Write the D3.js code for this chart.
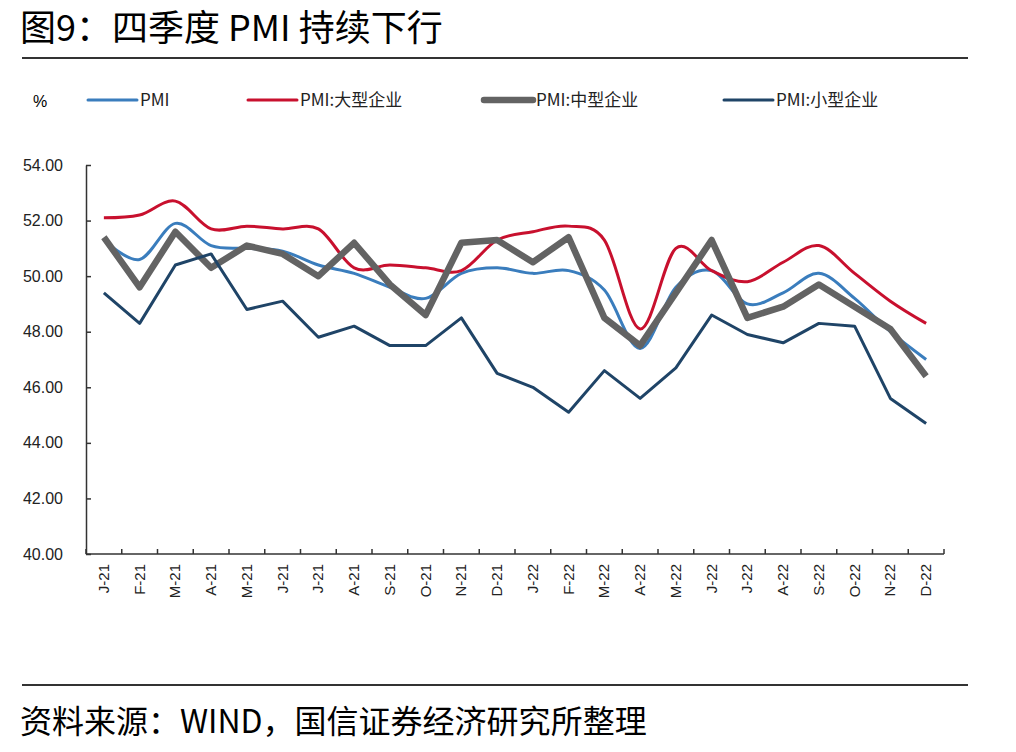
<!DOCTYPE html>
<html>
<head>
<meta charset="utf-8">
<script src="https://cdn.jsdelivr.net/npm/d3@7"></script>
<style>
  body { margin: 0; background: #fff; }
  svg { display: block; }
  .tick text { font-family: "Liberation Sans", Arial, sans-serif; }
</style>
</head>
<body>
<script>
var w = 1016;
var h = 752;
var margin = {top: 165, right: 72, bottom: 198, left: 86};

// x categories
var months = ["J-21","F-21","M-21","A-21","M-21","J-21","J-21","A-21","S-21","O-21","N-21","D-21",
              "J-22","F-22","M-22","A-22","M-22","J-22","J-22","A-22","S-22","O-22","N-22","D-22"];

var pmi    = [51.3,50.6,51.9,51.1,51.0,50.9,50.4,50.1,49.6,49.2,50.1,50.3,
              50.1,50.2,49.5,47.4,49.6,50.2,49.0,49.4,50.1,49.2,48.0,47.0];
var large  = [52.1,52.2,52.7,51.7,51.8,51.7,51.7,50.3,50.4,50.3,50.2,51.3,
              51.6,51.8,51.3,48.1,51.0,50.2,49.8,50.5,51.1,50.1,49.1,48.3];
var medium = [51.4,49.6,51.6,50.3,51.1,50.8,50.0,51.2,49.7,48.6,51.2,51.3,
              50.5,51.4,48.5,47.5,49.4,51.3,48.5,48.9,49.7,48.9,48.1,46.4];
var small  = [49.4,48.3,50.4,50.8,48.8,49.1,47.8,48.2,47.5,47.5,48.5,46.5,
              46.0,45.1,46.6,45.6,46.7,48.6,47.9,47.6,48.3,48.2,45.6,44.7];

var yTicks = [40,42,44,46,48,50,52,54];

var series = [
  {name: "PMI",          values: pmi,    color: "#3a7dbd", width: 3,   smooth: true,  lx: 88},
  {name: "PMI:大型企业", values: large,  color: "#c8102e", width: 3,   smooth: true,  lx: 248},
  {name: "PMI:中型企业", values: medium, color: "#636363", width: 6.5, smooth: false, lx: 484},
  {name: "PMI:小型企业", values: small,  color: "#1f4467", width: 3,   smooth: false, lx: 724}
];

var svg = d3.select("body").append("svg")
  .attr("width", w)
  .attr("height", h);

// title + rules
svg.append("text")
  .attr("x", 20).attr("y", 41)
  .style("font-family", "'Noto Sans CJK SC', sans-serif")
  .style("font-size", "36px")
  .attr("fill", "#000")
  .text("图9：四季度 PMI 持续下行");

svg.append("line").attr("x1", 22).attr("x2", 968).attr("y1", 58).attr("y2", 58)
  .attr("stroke", "#333").attr("stroke-width", 2);
svg.append("line").attr("x1", 22).attr("x2", 968).attr("y1", 685).attr("y2", 685)
  .attr("stroke", "#333").attr("stroke-width", 2);

svg.append("text")
  .attr("x", 20).attr("y", 733)
  .style("font-family", "'Noto Sans CJK SC', sans-serif")
  .style("font-size", "32px")
  .attr("fill", "#000")
  .text("资料来源：WIND，国信证券经济研究所整理");

var x = d3.scaleBand()
  .domain(d3.range(months.length))
  .range([margin.left, w - margin.right]);

var y = d3.scaleLinear()
  .domain([40, 54])
  .range([h - margin.bottom, margin.top]);

// y axis, ticks inward
var yAxis = svg.append("g")
  .attr("transform", "translate(" + margin.left + ",0)")
  .call(d3.axisRight(y).tickValues(yTicks).tickSize(5).tickSizeOuter(0).tickFormat(d3.format(".2f")));
yAxis.select(".domain").attr("stroke", "#333").attr("stroke-width", 1.5);
yAxis.selectAll(".tick line").attr("stroke", "#333").attr("stroke-width", 1.5);
yAxis.selectAll(".tick text")
  .attr("x", -23).attr("text-anchor", "end")
  .style("font-size", "16px").attr("fill", "#222");

// x axis: ticks on category boundaries, inward
var bounds = d3.range(months.length + 1).map((i) => margin.left + i * x.step());
var xg = svg.append("g");
xg.append("line")
  .attr("x1", margin.left).attr("x2", w - margin.right)
  .attr("y1", y(40)).attr("y2", y(40))
  .attr("stroke", "#333").attr("stroke-width", 1.5);
xg.selectAll(".xt")
  .data(bounds)
  .enter()
    .append("line")
    .attr("x1", (d) => d).attr("x2", (d) => d)
    .attr("y1", y(40)).attr("y2", y(40) - 5)
    .attr("stroke", "#333").attr("stroke-width", 1.5);
xg.selectAll(".xl")
  .data(months)
  .enter()
    .append("text")
    .attr("transform", (d, i) => "translate(" + (x(i) + x.bandwidth() / 2 + 5) + "," + (y(40) + 10) + ") rotate(-90)")
    .attr("text-anchor", "end")
    .style("font-family", "'Liberation Sans', Arial, sans-serif")
    .style("font-size", "15px")
    .attr("fill", "#222")
    .text((d) => d);

// lines
var cx = (d, i) => x(i) + x.bandwidth() / 2;
series.forEach((s) => {
  var line = d3.line()
    .x(cx)
    .y((d) => y(d))
    .curve(s.smooth ? d3.curveCardinal.tension(0) : d3.curveLinear);
  svg.append("path")
    .datum(s.values)
    .attr("d", line)
    .attr("fill", "none")
    .attr("stroke", s.color)
    .attr("stroke-width", s.width)
    .attr("stroke-linejoin", "round");
});

// legend
svg.append("text")
  .attr("x", 33).attr("y", 107)
  .style("font-family", "'Liberation Sans', Arial, sans-serif")
  .style("font-size", "16px")
  .text("%");
var lg = svg.selectAll(".lg")
  .data(series)
  .enter()
    .append("g");
lg.append("line")
  .attr("x1", (d) => d.lx).attr("x2", (d) => d.lx + 49)
  .attr("y1", 100).attr("y2", 100)
  .attr("stroke", (d) => d.color)
  .attr("stroke-width", (d) => d.width)
  .attr("stroke-linecap", "round");
lg.append("text")
  .attr("x", (d) => d.lx + 52).attr("y", 106)
  .style("font-family", "'Noto Sans CJK SC', sans-serif")
  .style("font-size", "17px")
  .attr("fill", "#222")
  .text((d) => d.name);
</script>
</body>
</html>
